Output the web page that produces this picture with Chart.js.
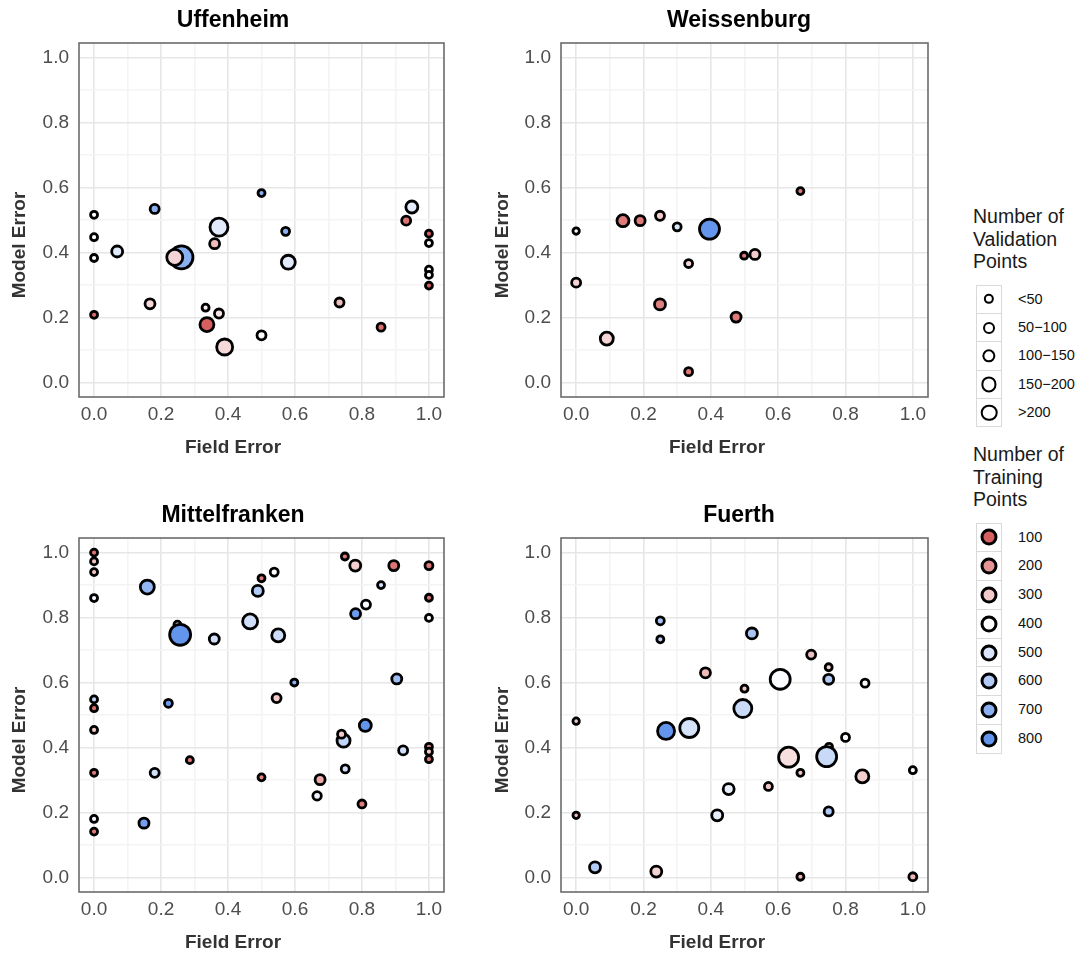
<!DOCTYPE html>
<html>
<head>
<meta charset="utf-8">
<script src="https://cdn.jsdelivr.net/npm/chart.js@4.4.1/dist/chart.umd.min.js"></script>
<style>
body { margin: 0; background: #fff; font-family: "Liberation Sans", Arial, sans-serif; }
#wrap { position: relative; width: 1091px; height: 957px; background: #fff; }
#wrap canvas { position: absolute; }
.leg { position: absolute; left: 973px; color: #1a1a1a; }
.leg .ttl { font-size: 19.5px; line-height: 22.5px; margin-bottom: 12px; }
.row { position: relative; height: 28.4px; }
.box { position: absolute; left: 3px; top: 0; width: 26px; height: 29.4px; box-sizing: border-box; border: 1px solid #d9d9d9; background: #fff; }
.dot { position: absolute; left: 50%; top: 50%; transform: translate(-50%, -50%); border-radius: 50%; box-sizing: border-box; border: 2.8px solid #000; }
.lab { position: absolute; left: 45px; top: 0; line-height: 28.4px; font-size: 14.5px; color: #111; }
</style>
</head>
<body>
<div id="wrap">
  <canvas id="c1" width="460" height="462" style="left:0;top:0"></canvas>
  <canvas id="c2" width="460" height="462" style="left:482px;top:0"></canvas>
  <canvas id="c3" width="460" height="462" style="left:0;top:495px"></canvas>
  <canvas id="c4" width="460" height="462" style="left:482px;top:495px"></canvas>
  <div class="leg" style="top:205px">
    <div class="ttl">Number of<br>Validation<br>Points</div>
    <div id="legSize"></div>
  </div>
  <div class="leg" style="top:443px">
    <div class="ttl">Number of<br>Training<br>Points</div>
    <div id="legTrain"></div>
  </div>
</div>
<script>
// Uffenheim
const uffField = [0, 0, 0, 0, 0.181, 0.069, 0.261, 0.241, 0.373, 0.36, 0.5, 0.572, 0.58, 0.167, 0.333, 0.373, 0.337, 0.39, 0.5, 0.733, 0.857, 0.949, 0.932, 1, 1, 1, 1, 1]
const uffModel = [0.516, 0.447, 0.383, 0.208, 0.534, 0.403, 0.385, 0.385, 0.478, 0.427, 0.583, 0.465, 0.370, 0.242, 0.230, 0.212, 0.178, 0.109, 0.145, 0.246, 0.170, 0.540, 0.498, 0.458, 0.429, 0.347, 0.331, 0.298]
const uffVal = [20, 20, 20, 20, 43, 73, 433, 187, 247, 57, 20, 30, 135, 57, 20, 43, 135, 187, 43, 43, 30, 92, 43, 20, 20, 20, 20, 20]
const uffTrain = [400, 400, 400, 120, 700, 480, 700, 320, 480, 270, 700, 700, 480, 330, 370, 350, 100, 330, 400, 280, 130, 470, 140, 100, 420, 400, 400, 100]

// Weissenburg
const weiField = [0, 0, 0.139, 0.19, 0.249, 0.30, 0.396, 0.334, 0.499, 0.531, 0.249, 0.475, 0.091, 0.334, 0.666]
const weiModel = [0.466, 0.307, 0.498, 0.498, 0.513, 0.479, 0.472, 0.366, 0.390, 0.394, 0.240, 0.201, 0.135, 0.033, 0.589]
const weiVal = [15, 43, 92, 57, 43, 30, 315, 30, 20, 57, 73, 57, 113, 30, 20]
const weiTrain = [400, 320, 150, 150, 300, 500, 800, 320, 150, 300, 160, 150, 320, 150, 150]

// Mittelfranken
const mitField = [0, 0, 0, 0, 0.159, 0.249, 0.257, 0.359, 0.466, 0.489, 0.5, 0.538, 0.55, 0.749, 0.78, 0.895, 1, 0.857, 0.812, 0.781, 1, 1, 0.598, 0.904, 0, 0, 0, 0.222, 0.545, 0.81, 0.745, 0.739, 0.923, 1, 1, 1, 0, 0.181, 0.286, 0.5, 0.675, 0.75, 0.666, 0.80, 0, 0, 0.149]
const mitModel = [1.0, 0.973, 0.940, 0.860, 0.894, 0.778, 0.747, 0.734, 0.788, 0.882, 0.921, 0.940, 0.745, 0.988, 0.960, 0.960, 0.960, 0.900, 0.840, 0.812, 0.861, 0.799, 0.600, 0.611, 0.548, 0.521, 0.454, 0.536, 0.552, 0.468, 0.421, 0.441, 0.391, 0.402, 0.387, 0.364, 0.322, 0.322, 0.361, 0.308, 0.301, 0.334, 0.251, 0.226, 0.180, 0.141, 0.167]
const mitVal = [20, 20, 20, 20, 135, 20, 352, 57, 160, 73, 20, 30, 113, 20, 73, 57, 30, 20, 43, 57, 20, 20, 20, 57, 20, 20, 20, 30, 43, 92, 113, 30, 43, 20, 20, 20, 20, 43, 20, 20, 57, 30, 36, 30, 20, 20, 57]
const mitTrain = [140, 290, 290, 430, 680, 400, 800, 520, 520, 600, 150, 400, 530, 150, 310, 140, 150, 520, 420, 780, 140, 420, 700, 650, 560, 130, 300, 780, 300, 800, 560, 300, 520, 180, 300, 150, 150, 520, 150, 170, 240, 520, 440, 150, 430, 150, 760]

// Fuerth
const fueField = [0, 0, 0.056, 0.238, 0.25, 0.25, 0.384, 0.522, 0.5, 0.495, 0.606, 0.267, 0.336, 0.698, 0.75, 0.75, 0.858, 0.80, 0.631, 0.751, 0.744, 0.666, 0.85, 1.0, 0.571, 0.453, 0.419, 0.75, 0.666, 1.0]
const fueModel = [0.481, 0.191, 0.031, 0.018, 0.790, 0.733, 0.630, 0.751, 0.581, 0.520, 0.610, 0.451, 0.460, 0.686, 0.647, 0.610, 0.598, 0.431, 0.370, 0.402, 0.372, 0.322, 0.311, 0.330, 0.280, 0.272, 0.191, 0.203, 0.002, 0.002]
const fueVal = [15, 15, 73, 73, 30, 20, 57, 73, 20, 247, 315, 216, 280, 43, 20, 57, 30, 30, 315, 20, 315, 20, 113, 20, 30, 73, 73, 43, 20, 30]
const fueTrain = [300, 270, 600, 320, 620, 570, 270, 620, 290, 540, 410, 800, 510, 280, 320, 600, 410, 420, 340, 400, 540, 290, 310, 420, 290, 460, 460, 600, 260, 260]

// axis ticks and legends
const axisTicks = [0, 0.1, 0.2, 0.3, 0.4, 0.5, 0.6, 0.7, 0.8, 0.9, 1.0]
const sizeLabels = ["<50", "50\u2212100", "100\u2212150", "150\u2212200", ">200"]
const sizeKeyVals = [25, 45, 65, 100, 130]
const trainLevels = [100, 200, 300, 400, 500, 600, 700, 800]

const FONT = '"Liberation Sans", Arial, sans-serif'
const lowCol = [215, 95, 95]
const highCol = [100, 149, 237]
const STROKE = 2.8

function trainColor (t) {
    let c, f
    if (t <= 400) {
        f = Math.min(1, Math.max(0, (400 - t) / 300))
        c = lowCol
    } else {
        f = Math.min(1, (t - 400) / 400)
        c = highCol
    }
    const r = Math.round(255 + (c[0] - 255) * f)
    const g = Math.round(255 + (c[1] - 255) * f)
    const b = Math.round(255 + (c[2] - 255) * f)
    return `rgb(${r},${g},${b})`
}

// outer diameter of a point, border included
function diameter (v) {
    return 5.4 + 0.98 * Math.sqrt(v)
}

const panelText = {
    id: 'panelText',
    beforeDatasetsDraw (chart) {
        const a = chart.chartArea
        const ctx = chart.ctx
        ctx.save()
        ctx.strokeStyle = '#6b6b6b'
        ctx.lineWidth = 1.6
        ctx.strokeRect(a.left, a.top, a.right - a.left, a.bottom - a.top)
        ctx.restore()
    },
    afterDraw (chart, args, o) {
        const ctx = chart.ctx
        ctx.save()
        ctx.textAlign = 'center'
        ctx.textBaseline = 'middle'
        ctx.fillStyle = '#000'
        ctx.font = 'bold 23px ' + FONT
        ctx.fillText(o.title, o.titleX, 21)
        ctx.fillStyle = '#333'
        ctx.font = 'bold 19px ' + FONT
        ctx.fillText('Field Error', o.xTitleX, 448)
        ctx.translate(o.yTitleX, 245)
        ctx.rotate(-Math.PI / 2)
        ctx.fillText('Model Error', 0, 0)
        ctx.restore()
    }
}

function gridColor (ctx) {
    const v = Math.round(ctx.tick.value * 10)
    return v % 2 == 0 ? '#e6e6e6' : '#f4f4f4'
}

function axis (fit) {
    return {
        type: 'linear',
        min: -0.045,
        max: 1.045,
        afterBuildTicks: (s) => { s.ticks = axisTicks.map((v) => ({ value: v })) },
        afterFit: fit,
        border: { display: false },
        grid: { color: gridColor, lineWidth: 1.6, drawTicks: false },
        ticks: {
            color: '#4d4d4d',
            font: { family: FONT, size: 19 },
            callback: (v) => (Math.round(v * 10) % 2 == 0 ? v.toFixed(1) : '')
        }
    }
}

function createPanel (id, title, xs, ys, vals, trains, right, padRight) {
    const pts = xs.map((x, i) => ({ x: x, y: ys[i], r: (diameter(vals[i]) - STROKE) / 2 }))
    const xAxis = axis((s) => { s.height = 65 })
    xAxis.ticks.padding = 6
    const yAxis = axis((s) => { s.width = 79 })
    yAxis.ticks.padding = 10
    new Chart(document.getElementById(id), {
        type: 'bubble',
        data: {
            datasets: [{
                data: pts,
                backgroundColor: trains.map(trainColor),
                borderColor: '#000',
                borderWidth: STROKE,
                hoverBorderWidth: STROKE,
                hoverRadius: 0
            }]
        },
        options: {
            responsive: false,
            animation: false,
            events: [],
            layout: { padding: { top: 43, right: padRight, left: 0, bottom: 0 } },
            scales: { x: xAxis, y: yAxis },
            plugins: {
                legend: { display: false },
                tooltip: { enabled: false },
                panelText: {
                    title: title,
                    titleX: right ? 257 : 233,
                    xTitleX: right ? 235 : 233,
                    yTitleX: right ? 21 : 20
                }
            }
        },
        plugins: [panelText]
    })
}

createPanel('c1', 'Uffenheim', uffField, uffModel, uffVal, uffTrain, false, 16)
createPanel('c2', 'Weissenburg', weiField, weiModel, weiVal, weiTrain, true, 14)
createPanel('c3', 'Mittelfranken', mitField, mitModel, mitVal, mitTrain, false, 16)
createPanel('c4', 'Fuerth', fueField, fueModel, fueVal, fueTrain, true, 14)

// legends
const legSize = document.getElementById('legSize')
sizeLabels.forEach((lab, i) => {
    const d = diameter(sizeKeyVals[i])
    legSize.insertAdjacentHTML('beforeend', `
        <div class="row">
        <div class="box"><div class="dot" style="width:${d}px;height:${d}px;background:#fff"></div></div>
        <div class="lab">${lab}</div>
        </div>
    `)
})
const legTrain = document.getElementById('legTrain')
trainLevels.forEach((t) => {
    legTrain.insertAdjacentHTML('beforeend', `
        <div class="row" style="height:28.8px">
        <div class="box" style="height:29.8px"><div class="dot" style="width:17px;height:17px;border-width:3px;background:${trainColor(t)}"></div></div>
        <div class="lab" style="line-height:28.8px">${t}</div>
        </div>
    `)
})
</script>
</body>
</html>
